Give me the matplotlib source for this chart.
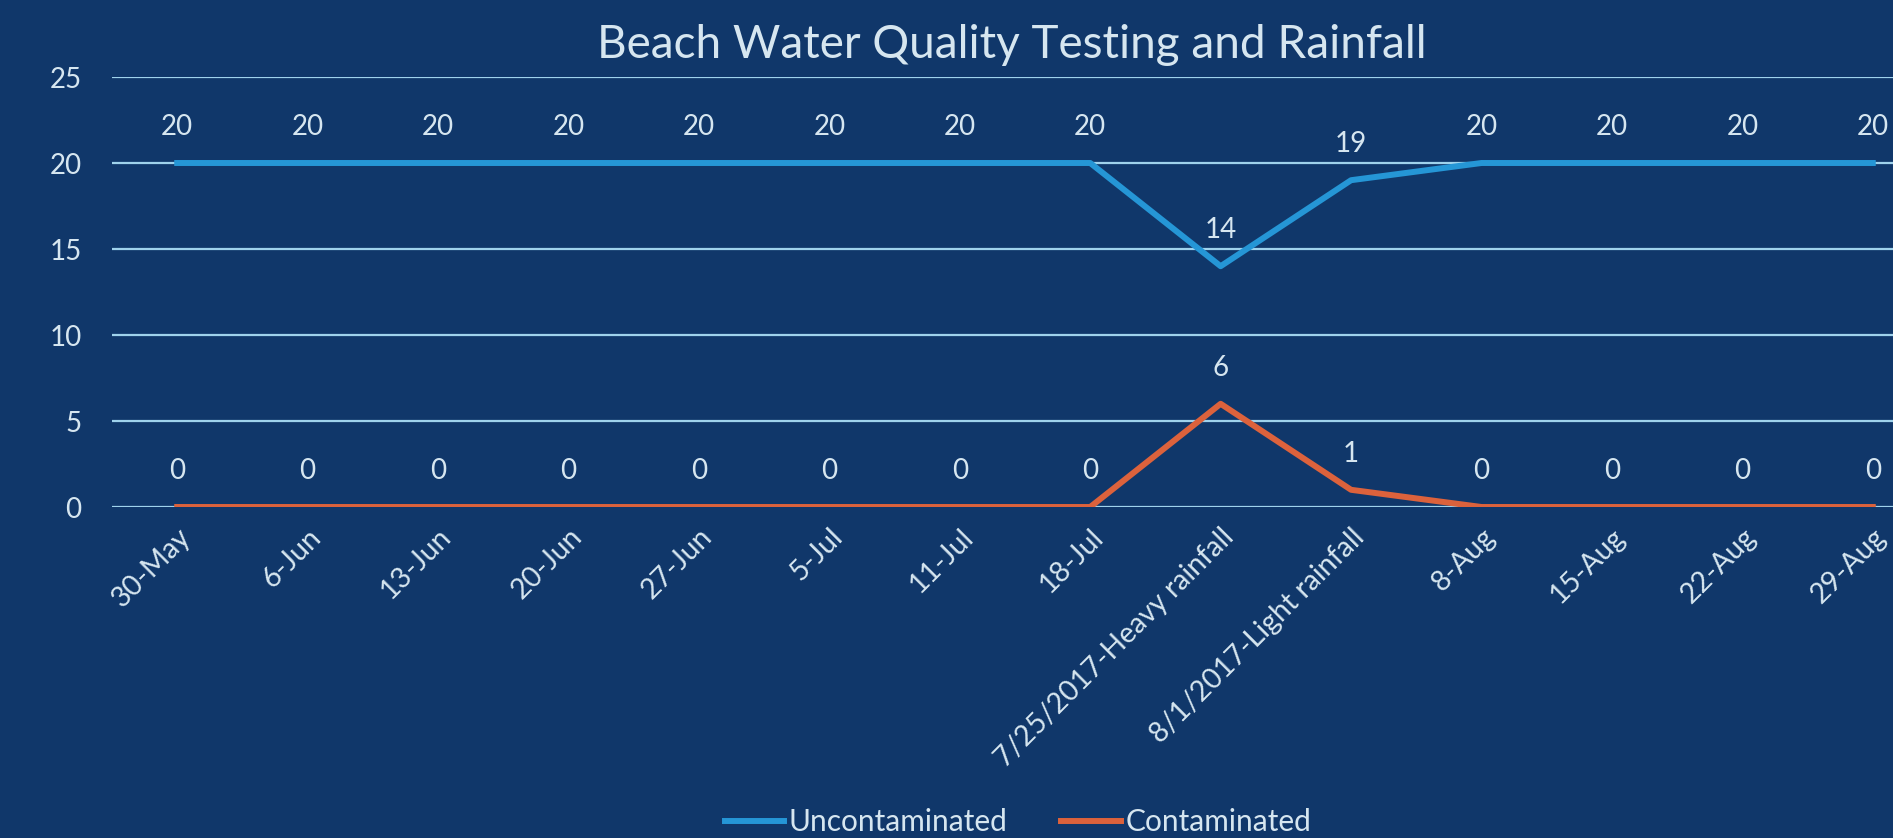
import matplotlib
matplotlib.use('Agg')
import matplotlib.pyplot as plt
from matplotlib.transforms import ScaledTranslation

# data
dates = ['30-May', '6-Jun', '13-Jun', '20-Jun', '27-Jun', '5-Jul', '11-Jul',
         '18-Jul', '7/25/2017-Heavy rainfall', '8/1/2017-Light rainfall',
         '8-Aug', '15-Aug', '22-Aug', '29-Aug']
uncontaminated = [20, 20, 20, 20, 20, 20, 20, 20, 14, 19, 20, 20, 20, 20]
contaminated = [0, 0, 0, 0, 0, 0, 0, 0, 6, 1, 0, 0, 0, 0]
y_ticks = [0, 5, 10, 15, 20, 25]

bg = '#10376a'
grid_col = '#9fd2ec'
txt_col = '#d6e6f0'
blue = '#2596d6'
red = '#dc623c'

plt.rcParams['font.family'] = ['Lato', 'DejaVu Sans']

fig = plt.figure(figsize=(18.93, 8.38), dpi=100)
fig.patch.set_facecolor(bg)

# axes runs past the right edge, like the cropped original
ax = fig.add_axes([112 / 1893, 331 / 838, 1826 / 1893, 430 / 838])
ax.set_facecolor(bg)

x = list(range(len(dates)))
ax.plot(x, uncontaminated, color=blue, lw=4.3, label='Uncontaminated',
        solid_joinstyle='round', zorder=3)
ax.plot(x, contaminated, color=red, lw=4.3, label='Contaminated',
        solid_joinstyle='round', zorder=3)

for i in x:
    ax.annotate(str(uncontaminated[i]), (i, uncontaminated[i]), xytext=(0, 26),
                textcoords='offset points', ha='center', va='center',
                color=txt_col, fontsize=20)
    ax.annotate(str(contaminated[i]), (i, contaminated[i]), xytext=(0, 26),
                textcoords='offset points', ha='center', va='center',
                color=txt_col, fontsize=20)

ax.set_xlim(-0.5, len(dates) - 0.5)
ax.set_ylim(0, 25)
ax.set_yticks(y_ticks)
ax.grid(axis='y', color=grid_col, lw=1.6, zorder=1)
ax.set_axisbelow(True)
for s in ax.spines.values():
    s.set_visible(False)

ax.set_xticks(x)
ax.set_xticklabels(dates, rotation=45, ha='right', rotation_mode='anchor',
                   color=txt_col, fontsize=20.5)
shift = ScaledTranslation(-12 / 100, 0, fig.dpi_scale_trans)
for lab in ax.get_xticklabels():
    lab.set_transform(lab.get_transform() + shift)
ax.tick_params(axis='x', length=0, pad=12)
ax.tick_params(axis='y', length=0, pad=22, labelcolor=txt_col, labelsize=20)

fig.text(1012 / 1893, 1 - 45 / 838, 'Beach Water Quality Testing and Rainfall',
         ha='center', va='center', color=txt_col, fontsize=33)

leg = fig.legend(loc='center', bbox_to_anchor=(1018 / 1893, 1 - 822 / 838),
                 ncol=2, frameon=False, fontsize=21.5, handlelength=2.0,
                 handletextpad=0.15, columnspacing=1.8)
for t in leg.get_texts():
    t.set_color(txt_col)

fig.savefig('out.png', dpi=100, facecolor=bg)
